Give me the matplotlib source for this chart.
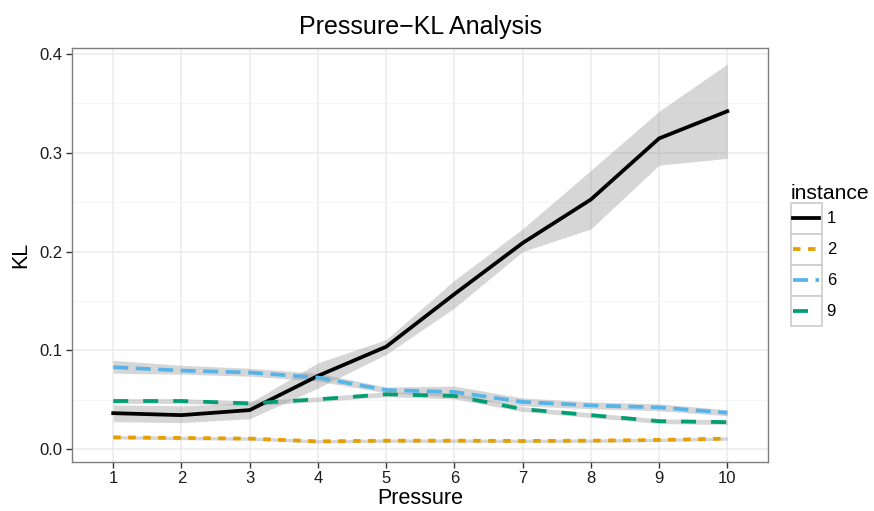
import matplotlib
matplotlib.use("Agg")
import matplotlib.pyplot as plt
from matplotlib.lines import Line2D
from matplotlib.patches import Rectangle
from matplotlib.legend_handler import HandlerBase
import numpy as np

plt.rcParams['font.family'] = ['Liberation Sans', 'DejaVu Sans']

pressure = [1, 2, 3, 4, 5, 6, 7, 8, 9, 10]
instances = ["1", "2", "6", "9"]

kl_1 = [0.0366, 0.0346, 0.0397, 0.0743, 0.1038, 0.157, 0.2087, 0.2527, 0.3145, 0.342]
lo_1 = [0.028, 0.027, 0.031, 0.062, 0.096, 0.143, 0.200, 0.2229, 0.2875, 0.2943]
hi_1 = [0.045, 0.044, 0.047, 0.0875, 0.111, 0.171, 0.223, 0.2822, 0.342, 0.3898]

kl_2 = [0.0122, 0.0115, 0.0109, 0.0081, 0.0088, 0.0088, 0.0085, 0.0088, 0.0095, 0.0109]
lo_2 = [0.0105, 0.0098, 0.0092, 0.0064, 0.0071, 0.0071, 0.0068, 0.0071, 0.0078, 0.0092]
hi_2 = [0.0139, 0.0132, 0.0126, 0.0098, 0.0105, 0.0105, 0.0102, 0.0105, 0.0112, 0.0126]

kl_6 = [0.0831, 0.0797, 0.0777, 0.0726, 0.060, 0.058, 0.048, 0.0444, 0.0424, 0.037]
lo_6 = [0.077, 0.076, 0.074, 0.069, 0.057, 0.053, 0.044, 0.041, 0.039, 0.034]
hi_6 = [0.090, 0.085, 0.082, 0.077, 0.063, 0.064, 0.052, 0.048, 0.046, 0.040]

kl_9 = [0.0489, 0.0489, 0.0465, 0.0506, 0.0557, 0.054, 0.0407, 0.0346, 0.0285, 0.0275]
lo_9 = [0.0465, 0.0465, 0.0441, 0.0482, 0.0533, 0.0510, 0.0383, 0.0322, 0.0261, 0.0251]
hi_9 = [0.0513, 0.0513, 0.0489, 0.0530, 0.0581, 0.0570, 0.0431, 0.0370, 0.0309, 0.0299]

x_ticks = [1, 2, 3, 4, 5, 6, 7, 8, 9, 10]
y_ticks = [0.0, 0.1, 0.2, 0.3, 0.4]
y_tick_labels = ["0.0", "0.1", "0.2", "0.3", "0.4"]

series = [
    ("1", kl_1, lo_1, hi_1, "#000000", None),
    ("2", kl_2, lo_2, hi_2, "#E69F00", (2, 2)),
    ("6", kl_6, lo_6, hi_6, "#56B4E9", (4, 2)),
    ("9", kl_9, lo_9, hi_9, "#009E73", (4, 4)),
]

LW = 2.7

fig = plt.figure(figsize=(8.74, 5.11), dpi=100)
ax = fig.add_axes([0.0827, 0.0959, 0.7963, 0.8108])

ax.set_xlim(0.4, 10.6)
ax.set_ylim(-0.0128, 0.4063)

# grid
for yv in [0.05, 0.15, 0.25, 0.35]:
    ax.axhline(yv, color="#F5F5F5", lw=0.6, zorder=0)
for yv in y_ticks:
    ax.axhline(yv, color="#EBEBEB", lw=1.1, zorder=0)
for xv in x_ticks:
    ax.axvline(xv, color="#EBEBEB", lw=1.1, zorder=0)

handles = []
for i, (name, kl, lo, hi, col, dash) in enumerate(series):
    ax.fill_between(pressure, lo, hi, color="#999999", alpha=0.4, lw=0, zorder=1)
for i, (name, kl, lo, hi, col, dash) in enumerate(series):
    ln, = ax.plot(pressure, kl, color=col, lw=LW, zorder=3 + i,
                  solid_joinstyle="round", dash_capstyle="butt")
    if dash is not None:
        ln.set_dashes(dash)
    handles.append(ln)

ax.set_xticks(x_ticks)
ax.set_xticklabels([str(v) for v in x_ticks])
ax.set_yticks(y_ticks)
ax.set_yticklabels(y_tick_labels)
ax.tick_params(axis="both", length=4.3, width=1.0, color="#333333",
               labelsize=12, labelcolor="#1a1a1a", pad=2.5)
for sp in ax.spines.values():
    sp.set_color("#7F7F7F")
    sp.set_linewidth(1.0)

ax.set_xlabel("Pressure", fontsize=15.5, labelpad=1)
ax.set_ylabel("KL", fontsize=15.5, labelpad=6)
ax.set_title("Pressure\u2212KL Analysis", fontsize=18, pad=10)


class BoxLineHandler(HandlerBase):
    def create_artists(self, legend, orig_handle, xdescent, ydescent, width,
                       height, fontsize, trans):
        rect = Rectangle((-xdescent, -ydescent), width, height,
                         facecolor="white", edgecolor="#CCCCCC", lw=1.2,
                         transform=trans)
        yc = -ydescent + height / 2
        ln = Line2D([-xdescent + width * 0.08, -xdescent + width * 0.92],
                    [yc, yc], color=orig_handle.get_color(),
                    lw=orig_handle.get_linewidth(), transform=trans)
        if orig_handle.get_linestyle() not in ("-", "solid"):
            ln.set_dashes(orig_handle._unscaled_dash_pattern[1])
        ln.set_dash_capstyle("butt")
        return [rect, ln]


leg = fig.legend(handles, instances, title="instance",
                 handler_map={Line2D: BoxLineHandler()},
                 loc="upper left", bbox_to_anchor=(779 / 874, 1 - 172 / 511),
                 frameon=False, fontsize=12, title_fontsize=15.2,
                 handlelength=1.86, handleheight=2.48, labelspacing=0.0,
                 handletextpad=0.3, borderpad=0.2, alignment="left")

fig.savefig("out.png", dpi=100)
